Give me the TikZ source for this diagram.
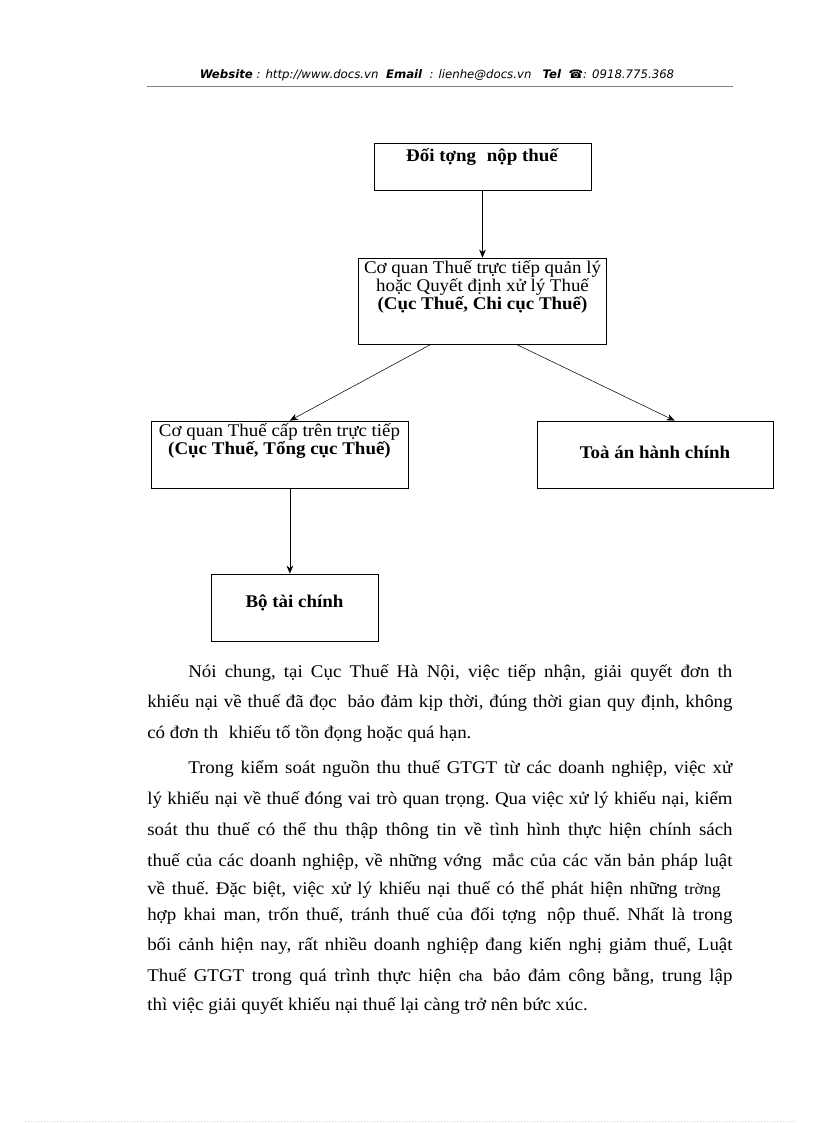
\documentclass[tikz,border=0pt]{standalone}
\usepackage{fontspec}
\setmainfont[FakeStretch=1.06]{Liberation Serif}
\setsansfont{Liberation Sans}
\newfontfamily\headfont{DejaVu Sans}
\usetikzlibrary{positioning,arrows.meta}

\newcommand{\boxfont}{\fontsize{13.4}{12}\selectfont}
\newcommand{\bodyfont}{\fontsize{13.4}{14}\selectfont\frenchspacing}
\newcommand{\fullline}[1]{\makebox[439pt][s]{#1}}
\newcommand{\indline}[1]{\makebox[408pt][s]{#1}}
\newcommand{\gap}{\hspace{8pt}}

\begin{document}
\begin{tikzpicture}[x=0.75pt, y=-0.75pt, >={Stealth[length=6pt, width=5pt]},
    box/.style={draw, line width=0.6pt, inner sep=0pt},
    boxtext/.style={inner sep=0pt, align=center, font=\boxfont},
    bodyline/.style={anchor=base west, inner sep=0pt, font=\bodyfont}]
  \useasboundingbox (0,0) rectangle (816,1123);
  % header
  \node[inner sep=0pt, anchor=base, font=\headfont\fontsize{8.8}{10}\selectfont\itshape] (head) at (437,79)
    {\textbf{Website} : http://www.docs.vn\ \ \textbf{Email}\ \ : lienhe@docs.vn\ \ \ \textbf{Tel}\ \ \textbf{☎}: 0918.775.368};
  \draw[gray, line width=0.4pt] (147,86) -- (733,86);
  % boxes
  \node[box, minimum width=162.75pt, minimum height=35.25pt] (obj) at (482.5,166.5) {};
  \node[box, minimum width=186pt, minimum height=64.5pt] (dept) at (482.5,301) {};
  \node[box, minimum width=192.75pt, minimum height=50.25pt] (upper) at (279.5,454.5) {};
  \node[box, minimum width=177pt, minimum height=50.25pt] (court) at (655,454.5) {};
  \node[box, minimum width=125.25pt, minimum height=50.25pt] (mof) at (294.5,607.5) {};
  \node[boxtext, below=4pt of obj.north] (objtext) {\textbf{Đối tợng\gap nộp thuế}};
  \node[boxtext, below=2pt of dept.north] (depttext) {Cơ quan Thuế trực tiếp quản lý\\ hoặc Quyết định xử lý Thuế\\ \textbf{(Cục Thuế, Chi cục Thuế)}};
  \node[boxtext, below=2pt of upper.north] (uppertext) {Cơ quan Thuế cấp trên trực tiếp\\ \textbf{(Cục Thuế, Tổng cục Thuế)}};
  \node[boxtext, above=-3pt of court.center] (courttext) {\textbf{Toà án hành chính}};
  \node[boxtext, above=-3pt of mof.center] (moftext) {\textbf{Bộ tài chính}};
  % arrows
  \draw[->] (obj) -- (dept);
  \draw[->] (dept.220) -- (upper.73);
  \draw[->] (dept.308) -- (court.60);
  \draw[->] (upper.287) -- (upper.287 |- mof.north);
  % text below
  \node[bodyline] (p1a) at (188,677) {\indline{Nói chung, tại Cục Thuế Hà Nội, việc tiếp nhận, giải quyết đơn th}};
  \node[bodyline] (p1b) at (147,707) {\fullline{khiếu nại về thuế đã đọc\gap bảo đảm kịp thời, đúng thời gian quy định, không}};
  \node[bodyline] (p1c) at (147,738) {có đơn th\gap khiếu tố tồn đọng hoặc quá hạn.};
  \node[bodyline] (p2a) at (188,773) {\indline{Trong kiểm soát nguồn thu thuế GTGT từ các doanh nghiệp, việc xử}};
  \node[bodyline] (p2b) at (147,804) {\fullline{lý khiếu nại về thuế đóng vai trò quan trọng. Qua việc xử lý khiếu nại, kiểm}};
  \node[bodyline] (p2c) at (147,835) {\fullline{soát thu thuế có thể thu thập thông tin về tình hình thực hiện chính sách}};
  \node[bodyline] (p2d) at (147,866) {\fullline{thuế của các doanh nghiệp, về những vớng\gap mắc của các văn bản pháp luật}};
  \node[bodyline] (p2e) at (147,894) {\makebox[430pt][s]{về thuế. Đặc biệt, việc xử lý khiếu nại thuế có thể phát hiện những {\fontsize{12}{14}\selectfont trờng}}};
  \node[bodyline] (p2f) at (147,920) {\fullline{hợp khai man, trốn thuế, tránh thuế của đối tợng\gap nộp thuế. Nhất là trong}};
  \node[bodyline] (p2g) at (147,950) {\fullline{bối cảnh hiện nay, rất nhiều doanh nghiệp đang kiến nghị giảm thuế, Luật}};
  \node[bodyline] (p2h) at (147,981) {\fullline{Thuế GTGT trong quá trình thực hiện {\sffamily\fontsize{11}{14}\selectfont cha}\gap bảo đảm công bằng, trung lập}};
  \node[bodyline] (p2i) at (147,1010) {thì việc giải quyết khiếu nại thuế lại càng trở nên bức xúc.};
  \draw[gray!40, dotted] (25,1121) -- (795,1121);
\end{tikzpicture}
\end{document}
